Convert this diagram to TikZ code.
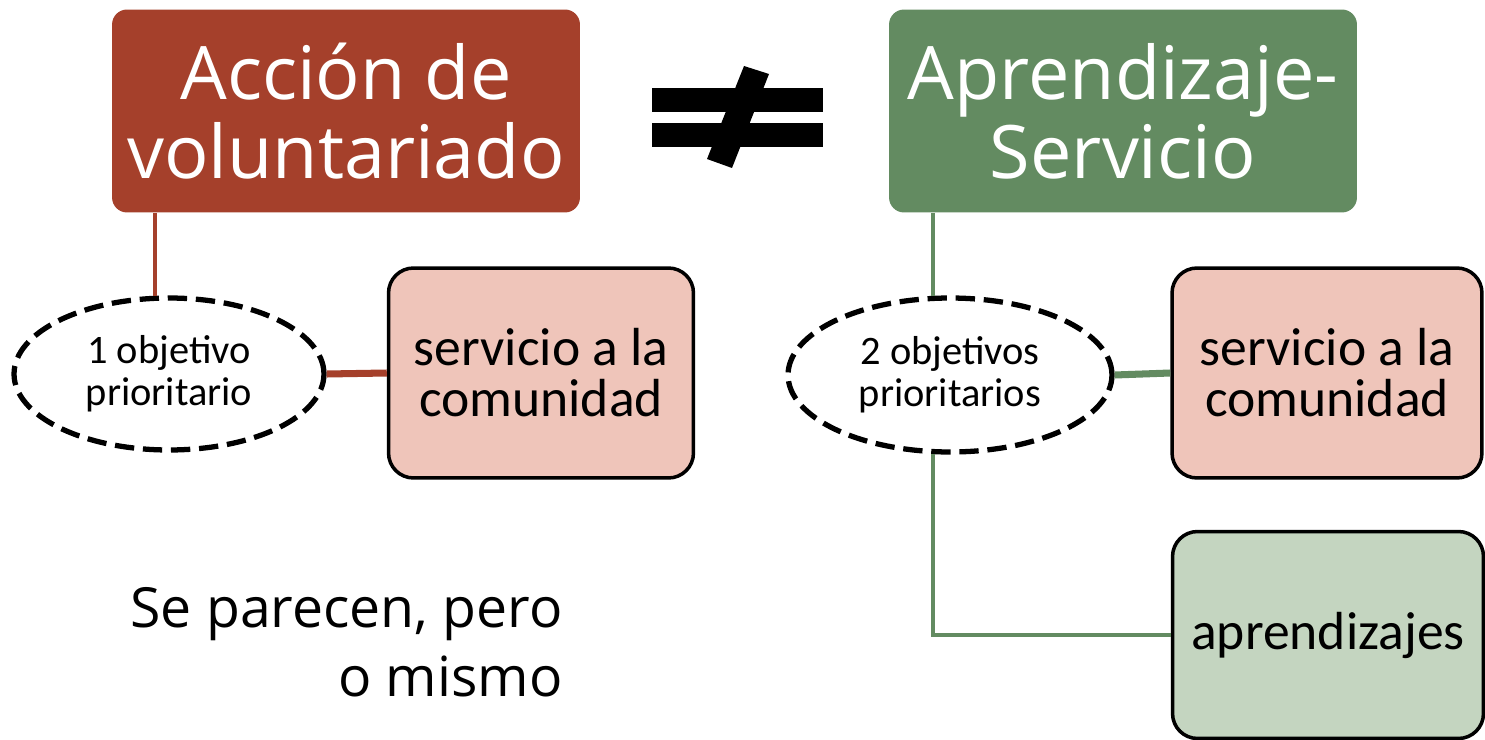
\documentclass[tikz,border=0pt]{standalone}
\usepackage{fontspec}
\setmainfont{Open Sans}
\newfontfamily\boxfont{Carlito}
\usetikzlibrary{shapes.geometric}
\definecolor{volred}{HTML}{A5402B}
\definecolor{apsgreen}{HTML}{638B61}
\definecolor{servpink}{HTML}{EFC5BA}
\definecolor{aprgreen}{HTML}{C4D5C0}

\begin{document}
\begin{tikzpicture}[x=0.02cm, y=-0.02cm,
  titlebox/.style={rectangle, rounded corners=0.3cm, minimum width=9.36cm, minimum height=4.06cm, text=white, align=center, font=\fontsize{42}{45}\selectfont},
  goal/.style={ellipse, draw, line width=3pt, dash pattern=on 11pt off 5pt, minimum width=6.2cm, minimum height=3.04cm, inner sep=0pt, align=center, font=\boxfont\fontsize{23}{24}\selectfont},
  aim/.style={rectangle, draw, line width=2pt, rounded corners=0.5cm, minimum width=6.1cm, minimum height=4.2cm, align=center, font=\boxfont\fontsize{30.5}{29}\selectfont},
  thinlink/.style={line width=2.5pt},
  thicklink/.style={line width=4pt}]
  \useasboundingbox (0,0) rectangle (1485,740);
  % Nodes
  \node (accion) [titlebox, fill=volred] at (346, 111) {Acción de\\voluntariado};
  \node (aps) [titlebox, fill=apsgreen] at (1123, 111) {Aprendizaje-\\Servicio};
  \node (goalone) [goal] at (169, 374) {1 objetivo\\prioritario};
  \node (goaltwo) [goal, minimum width=6.48cm, minimum height=3.08cm] at (950, 375) {2 objetivos\\prioritarios};
  \node (servone) [aim, fill=servpink] at (541, 373) {servicio a la\\comunidad};
  \node (servtwo) [aim, fill=servpink, minimum width=6.2cm] at (1327, 373) {servicio a la\\comunidad};
  \node (aprend) [aim, fill=aprgreen, minimum width=6.22cm, minimum height=4.14cm] at (1328, 635) {aprendizajes};
  \node (footer) [anchor=north east, inner sep=0pt, align=right, font=\fontsize{31.5}{39.5}\selectfont] at (563, 587) {Se parecen, pero\\o mismo};
  % Not equal sign
  \fill (652, 88) rectangle (823, 112);
  \fill (652, 123) rectangle (823, 147);
  \fill (744, 66) -- (769, 74) -- (732, 168) -- (707, 159) -- cycle;
  % Links
  \draw[thinlink, volred] (accion.south -| goalone.100) -- (goalone.100);
  \draw[thicklink, volred] (goalone.east) -- (servone.west);
  \draw[thinlink, apsgreen] (aps.south -| goaltwo.102) -- (goaltwo.102);
  \draw[thicklink, apsgreen] (goaltwo.east) -- (servtwo.west);
  \draw[thinlink, apsgreen] (goaltwo.258) |- (aprend.west);
\end{tikzpicture}
\end{document}
